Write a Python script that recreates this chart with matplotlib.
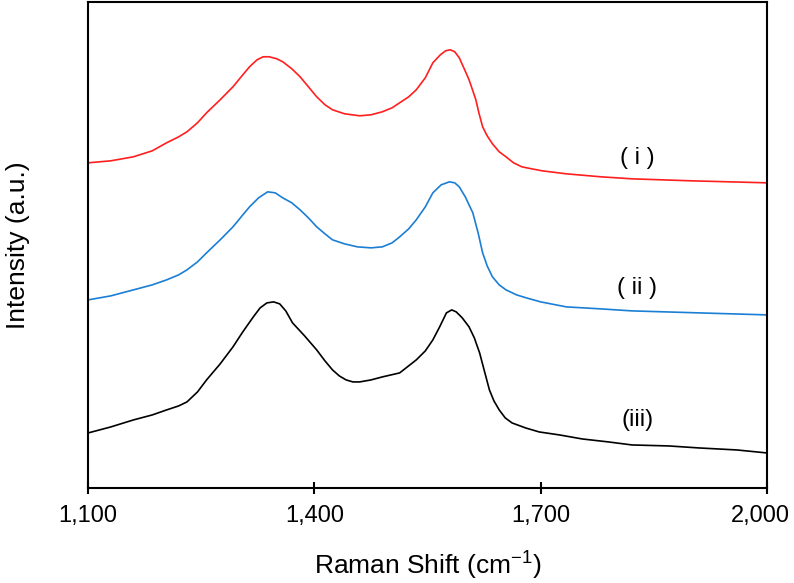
import matplotlib.pyplot as plt
import matplotlib.transforms as mtransforms

plt.rcParams['font.family'] = ['Liberation Sans', 'DejaVu Sans']

# Raman shift (cm-1) and intensity (a.u., offset stacked)
x_i = [1100, 1130, 1160, 1185, 1204, 1220, 1231, 1245, 1257, 1275, 1292, 1304, 1314,
       1324, 1332, 1340, 1350, 1358, 1370, 1381, 1392, 1403, 1414, 1424, 1440, 1460,
       1475, 1490, 1503, 1513, 1525, 1535, 1547, 1557, 1567, 1574, 1580, 1586, 1592,
       1598, 1605, 1610, 1614, 1618, 1623, 1629, 1636, 1645, 1654, 1664, 1675, 1688,
       1702, 1734, 1780, 1821, 1900, 2000]
y_i = [325, 327, 331, 337, 345, 351, 356, 365, 375, 388, 401, 412, 421,
       428, 431, 431, 429, 426, 419, 411, 401, 391, 383, 378, 374, 372,
       373, 376, 380, 385, 391, 398, 410, 425, 433, 437, 438, 436, 430,
       420, 408, 397, 388, 375, 361, 352, 344, 336, 331, 325, 321, 319,
       317, 314, 311, 309, 307, 305]

x_ii = [1100, 1130, 1160, 1185, 1204, 1220, 1231, 1245, 1257, 1275, 1292, 1304, 1314,
        1326, 1338, 1348, 1358, 1370, 1381, 1392, 1403, 1414, 1424, 1440, 1457, 1475,
        1490, 1503, 1513, 1525, 1535, 1547, 1557, 1568, 1579, 1586, 1592, 1600, 1610,
        1617, 1623, 1629, 1636, 1645, 1654, 1668, 1681, 1700, 1734, 1780, 1821, 1910,
        2000]
y_ii = [188, 192, 198, 203, 208, 213, 218, 226, 235, 248, 261, 272, 281,
        290, 296, 295, 290, 285, 278, 270, 261, 254, 248, 244, 241, 240,
        241, 245, 251, 259, 268, 281, 295, 303, 306, 305, 301, 291, 275,
        255, 235, 222, 211, 203, 198, 193, 190, 186, 181, 179, 177, 175,
        173]

x_iii = [1100, 1130, 1160, 1185, 1204, 1220, 1231, 1245, 1257, 1275, 1292, 1305, 1319,
         1328, 1337, 1346, 1354, 1362, 1371, 1387, 1403, 1414, 1424, 1433, 1442, 1451,
         1460, 1475, 1490, 1513, 1535, 1547, 1557, 1566, 1575, 1582, 1588, 1596, 1605,
         1612, 1619, 1626, 1632, 1638, 1645, 1653, 1662, 1680, 1698, 1725, 1755, 1790,
         1821, 1870, 1910, 1960, 2000]
y_iii = [55, 61, 68, 73, 78, 82, 86, 96, 108, 124, 141, 156, 171,
         180, 185, 186, 184, 177, 165, 152, 138, 127, 118, 112, 108, 106,
         106, 108, 111, 115, 128, 137, 148, 161, 175, 178, 176, 170, 161,
         150, 135, 115, 98, 87, 78, 70, 65, 60, 56, 53, 49, 46,
         43, 42, 40, 38, 35]

labels = ['( i )', '( ii )', '(iii)']
label_x = [1828, 1828, 1828]
label_y = [330, 200, 68]

fig = plt.figure(figsize=(7.94, 5.83), dpi=100)
ax = fig.add_axes([0.111, 0.163, 0.855, 0.834])

ax.plot(x_i, y_i, color='#ff1f1f', lw=1.2)
ax.plot(x_ii, y_ii, color='#1a7fd4', lw=1.2)
ax.plot(x_iii, y_iii, color='black', lw=1.2)

for t, lx, ly in zip(labels, label_x, label_y):
    ax.text(lx, ly, t, fontsize=17, ha='center', va='center')

ax.set_xlim(1100, 2000)
ax.set_ylim(0, 486)
ax.set_xticks([1100, 1400, 1700, 2000])
ax.set_xticklabels(['1,100', '1,400', '1,700', '2,000'])
ax.set_yticks([])
ax.tick_params(axis='x', direction='inout', length=9, width=1.5, labelsize=17, pad=8)
for s in ax.spines.values():
    s.set_linewidth(1.5)

# nudge the last tick label left so it stays inside the figure
last = ax.get_xticklabels()[-1]
last.set_transform(last.get_transform() +
                   mtransforms.ScaledTranslation(-7 / 100, 0, fig.dpi_scale_trans))

ax.set_xlabel('Raman Shift (cm$^{\\mathregular{-1}}$)', fontsize=19, labelpad=15)
ax.set_ylabel('Intensity (a.u.)', fontsize=19, labelpad=42)

plt.savefig('out.png')
